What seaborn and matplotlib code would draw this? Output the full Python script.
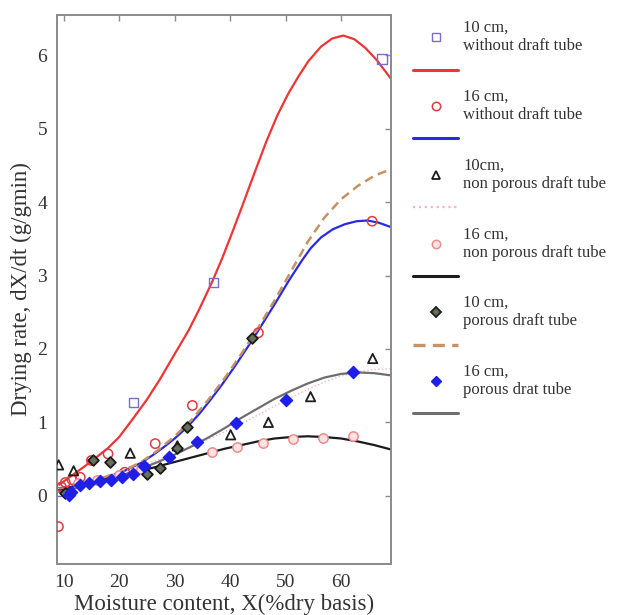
import matplotlib
matplotlib.use("Agg")
import matplotlib.pyplot as plt
from matplotlib.lines import Line2D
import seaborn as sns
import pandas as pd

# ---------------- fitted drying-rate curves ----------------
# moisture content X (% dry basis) -> drying rate dX/dt (g/gmin)
fit_x_10_free = [9.2, 11.0, 13.6, 16.0, 18.0, 20.0, 22.5, 25.0, 27.3, 30.0, 32.5, 34.5, 36.8,
                 38.6, 40.4, 42.2, 44.5, 46.5, 48.5, 50.5, 52.3, 54.1, 56.4, 58.4, 60.4, 62.4,
                 64.4, 66.5, 69.0]
fit_y_10_free = [0.15, 0.25, 0.39, 0.53, 0.65, 0.80, 1.05, 1.31, 1.58, 1.93, 2.25, 2.55, 2.92,
                 3.24, 3.59, 3.95, 4.42, 4.82, 5.18, 5.48, 5.71, 5.92, 6.12, 6.23, 6.27, 6.22,
                 6.10, 5.93, 5.68]

fit_x_16_free = [9.2, 12, 15, 18, 21, 24, 26, 28, 30, 32.2, 34.5, 36.5, 38.6, 41, 43.2, 45.4,
                 48.2, 50.5, 52.9, 54.5, 56.4, 58.5, 60.7, 62.8, 64.8, 66.8, 69.0]
fit_y_16_free = [0.08, 0.13, 0.19, 0.26, 0.34, 0.45, 0.55, 0.66, 0.78, 0.93, 1.12, 1.31, 1.52,
                 1.78, 2.03, 2.29, 2.63, 2.92, 3.20, 3.37, 3.52, 3.63, 3.70, 3.74, 3.75, 3.72, 3.66]

fit_x_common = [9.2, 12, 15, 18, 21, 24, 27, 30, 33, 36, 39, 42, 45, 48, 51, 54, 57, 60, 63, 66, 69.0]
fit_y_10_solid = [0.10, 0.15, 0.21, 0.27, 0.34, 0.41, 0.49, 0.58, 0.67, 0.77, 0.87, 0.98, 1.10,
                  1.22, 1.34, 1.45, 1.55, 1.63, 1.69, 1.72, 1.73]
fit_y_16_solid = [0.08, 0.13, 0.19, 0.24, 0.29, 0.34, 0.40, 0.46, 0.52, 0.58, 0.64, 0.69, 0.74,
                  0.78, 0.80, 0.81, 0.80, 0.78, 0.74, 0.69, 0.63]
fit_y_10_porous = [0.10, 0.14, 0.20, 0.27, 0.35, 0.46, 0.62, 0.81, 1.03, 1.30, 1.60, 1.93, 2.28,
                   2.66, 3.06, 3.46, 3.79, 4.04, 4.22, 4.36, 4.45]
fit_y_16_porous = [0.05, 0.10, 0.16, 0.22, 0.29, 0.37, 0.46, 0.56, 0.67, 0.79, 0.92, 1.06, 1.19,
                   1.32, 1.43, 1.53, 1.61, 1.66, 1.68, 1.67, 1.64]

# ---------------- measured points ----------------
pt_x_10_free = [9.4, 22.6, 37.0, 67.4]
pt_y_10_free = [0.06, 1.27, 2.91, 5.95]

pt_x_16_free = [9.05, 9.6, 10.3, 11.5, 13.0, 15.0, 18.0, 21.0, 26.5, 33.2, 45.1, 65.6]
pt_y_16_free = [-0.42, 0.12, 0.18, 0.22, 0.25, 0.48, 0.57, 0.32, 0.71, 1.23, 2.22, 3.74]

pt_x_10_solid = [9.1, 11.8, 22.0, 30.5, 40.1, 46.9, 54.5, 65.7]
pt_y_10_solid = [0.42, 0.34, 0.58, 0.68, 0.83, 1.00, 1.35, 1.87]

pt_x_16_solid = [12.5, 16.0, 20.0, 24.0, 36.8, 41.3, 46.0, 51.4, 56.8, 62.2]
pt_y_16_solid = [0.17, 0.22, 0.28, 0.36, 0.60, 0.67, 0.72, 0.77, 0.79, 0.81]

pt_x_10_porous = [10.2, 15.2, 18.4, 25.1, 27.4, 30.5, 32.3, 43.9]
pt_y_10_porous = [0.04, 0.49, 0.46, 0.29, 0.38, 0.65, 0.93, 2.15]

pt_x_16_porous = [10.9, 11.3, 13.0, 14.5, 16.5, 18.5, 20.5, 22.5, 24.5, 28.9, 34.1, 41.0, 50.0, 62.2]
pt_y_16_porous = [0.01, 0.05, 0.15, 0.18, 0.20, 0.22, 0.26, 0.30, 0.40, 0.53, 0.73, 0.99, 1.31, 1.69]

series_labels = ["10 cm,\nwithout draft tube", "16 cm,\nwithout draft tube",
                 "10cm,\nnon porous draft tube", "16 cm,\nnon porous draft tube",
                 "10 cm,\nporous draft tube", "16 cm,\nporous drat tube"]

x_ticks = [10, 20, 30, 40, 50, 60]
y_ticks = [0, 1, 2, 3, 4, 5, 6]

# ---------------- styling ----------------
sns.set_theme(style="white")
plt.rcParams["font.family"] = ["Liberation Serif", "DejaVu Serif"]
plt.rcParams["text.color"] = "#333333"

fig = plt.figure(figsize=(6.21, 6.15), dpi=100)
ax = fig.add_axes([57 / 621, 1 - 564 / 615, (391 - 57) / 621, (564 - 15) / 615])

curve_styles = [
    (fit_x_10_free, fit_y_10_free, dict(color="#ee3535", lw=1.6, ls="-")),
    (fit_x_16_free, fit_y_16_free, dict(color="#2a2ae0", lw=1.6, ls="-")),
    (fit_x_common, fit_y_10_solid, dict(color="#f2b3c8", lw=1.0, ls=":")),
    (fit_x_common, fit_y_16_solid, dict(color="#1c1c1c", lw=1.6, ls="-")),
    (fit_x_common, fit_y_10_porous, dict(color="#c59263", lw=1.8, ls=(0, (3.6, 2.2)))),
    (fit_x_common, fit_y_16_porous, dict(color="#6e6e6e", lw=1.6, ls="-")),
]
for cx, cy, st in curve_styles:
    df = pd.DataFrame({"x": cx, "y": cy})
    sns.lineplot(data=df, x="x", y="y", sort=False, estimator=None, ax=ax,
                 color=st["color"], linewidth=st["lw"], linestyle=st["ls"], zorder=2)

marker_styles = [
    (pt_x_10_free, pt_y_10_free, dict(marker="s", s=45, fc="none", ec="#7a6cd0", lw=1.0)),
    (pt_x_16_free, pt_y_16_free, dict(marker="o", s=45, fc="none", ec="#e23a40", lw=1.1)),
    (pt_x_10_solid, pt_y_10_solid, dict(marker="^", s=45, fc="none", ec="#1e1e1e", lw=1.3)),
    (pt_x_16_solid, pt_y_16_solid, dict(marker="o", s=45, fc="#fbe3e3", ec="#ee8c8c", lw=1.1)),
    (pt_x_10_porous, pt_y_10_porous, dict(marker="D", s=30, fc="#66705a", ec="#1a1a1a", lw=1.3)),
    (pt_x_16_porous, pt_y_16_porous, dict(marker="D", s=38, fc="#1f1fe8", ec="#1f1fe8", lw=1.0)),
]
for px, py, st in marker_styles:
    df = pd.DataFrame({"x": px, "y": py})
    sns.scatterplot(data=df, x="x", y="y", ax=ax, marker=st["marker"], s=st["s"],
                    facecolor=st["fc"], edgecolor=st["ec"], linewidth=st["lw"], zorder=3)

ax.set_xlim(8.8, 69.0)
ax.set_ylim(-0.93, 6.55)
ax.set_xticks(x_ticks)
ax.set_yticks(y_ticks)
ax.tick_params(axis="both", which="both", direction="in", length=4, width=1,
               color="#8a8a8a", labelsize=14, labelcolor="#333333",
               top=True, right=True, pad=7)
for sp in ax.spines.values():
    sp.set_color("#8a8a8a")
    sp.set_linewidth(1.4)
ax.set_xlabel("Moisture content, X(%dry basis)", fontsize=16.5, color="#333333", labelpad=2)
ax.set_ylabel("Drying rate, dX/dt (g/gmin)", fontsize=16.5, color="#333333", labelpad=4)

# legend: marker entry with its description, followed by the matching fit line
handles, labels = [], []
for (_, _, mst), (_, _, cst), lab in zip(marker_styles, curve_styles, series_labels):
    handles.append(Line2D([], [], ls="none", marker=mst["marker"],
                          markersize=(mst["s"] ** 0.5) * 0.9,
                          markerfacecolor=mst["fc"], markeredgecolor=mst["ec"],
                          markeredgewidth=mst["lw"]))
    labels.append(lab)
    handles.append(Line2D([], [], color=cst["color"], lw=cst["lw"] + 0.6, ls=cst["ls"]))
    labels.append("")

fig.legend(handles, labels, loc="upper left", bbox_to_anchor=(413 / 621, 1 - 20 / 615),
           frameon=False, fontsize=12, handlelength=2.7, handletextpad=0.3,
           borderpad=0, borderaxespad=0, labelspacing=0.55, numpoints=1,
           labelcolor="#333333")

fig.savefig("out.png", dpi=100)
